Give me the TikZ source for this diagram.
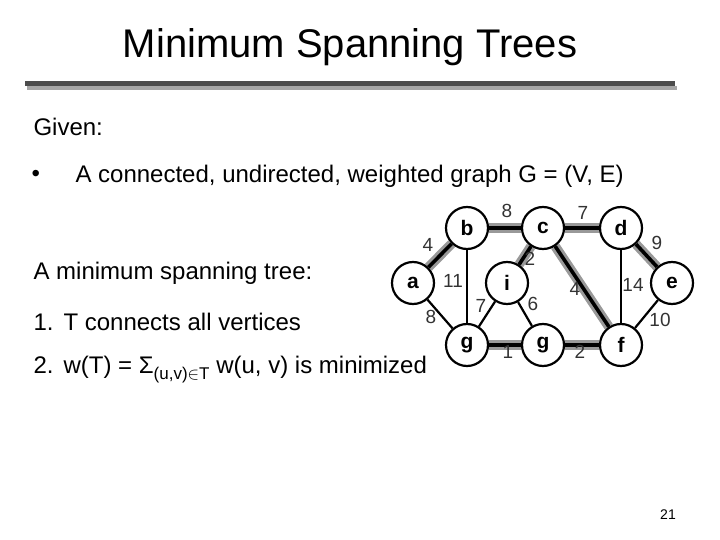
\documentclass[tikz,border=0pt]{standalone}
\usepackage{fontspec}
\setmainfont{Liberation Sans}
\usepackage{amsmath}
\usepackage{amssymb}
\usepackage{tikz}
\usetikzlibrary{backgrounds}

\begin{document}
\begin{tikzpicture}[x=1pt,y=-1pt,
	vtx/.style={circle, draw, line width=2.2pt, fill=white, minimum size=42pt, inner sep=0pt, font=\fontsize{21}{21}\selectfont\bfseries},
	edge/.style={line width=2.2pt},
	tree/.style={line width=3pt, double=black, double distance=3.6pt, draw=black!40},
	wt/.style={font=\fontsize{19}{19}\selectfont, text=black!80},
	txt/.style={anchor=west, font=\fontsize{24}{24}\selectfont}]
	\useasboundingbox (0,0) rectangle (720,540);
	\node at (350,47) {\fontsize{40}{40}\selectfont Minimum Spanning Trees};
	\fill[black!35] (27,86) rectangle (677,90);
	\fill[black!70] (25,81) rectangle (675,86);
	\node[txt] at (30,127) {Given:};
	\node[txt] at (28,176) {\textbullet};
	\node[txt] at (72,176) {A connected, undirected, weighted graph G = (V, E)};
	\node[txt] at (30,273) {A minimum spanning tree:};
	\node[txt] at (30,322) {1.\hspace{10pt}T connects all vertices};
	\node[txt] at (30,370) {2.\hspace{10pt}w(T) = Σ\raisebox{-6pt}{\fontsize{17}{17}\selectfont(u,v)$\in$T} w(u, v) is minimized};
	\node at (668,515) {\fontsize{14}{14}\selectfont 21};
	% graph
	\node (b) at (467,228) [vtx] {b};
	\node (c) at (543,228) [vtx] {c};
	\node (d) at (621,228) [vtx] {d};
		\node (a) at (413,283) [vtx] {a};
		\node (i) at (507,283) [vtx] {i};
		\node (e) at (672,283) [vtx] {e};
			\node (g1) at (467,345) [vtx] {g};
			\node (g2) at (543,345) [vtx] {g};
			\node (f) at (621,345) [vtx] {f};
	\begin{scope}[on background layer]
	\draw[tree] (a) -- (b);
	\draw[tree] (b) -- (c);
	\draw[tree] (c) -- (d);
	\draw[tree] (c) -- (i);
	\draw[tree] (c) -- (f);
	\draw[tree] (d) -- (e);
	\draw[tree] (g1) -- (g2);
	\draw[tree] (g2) -- (f);
	\draw[edge] (b) -- (g1);
	\draw[edge] (a) -- (g1);
	\draw[edge] (i) -- (g1);
	\draw[edge] (i) -- (g2);
	\draw[edge] (d) -- (f);
	\draw[edge] (e) -- (f);
	\end{scope}
	\node[wt] (w1) at (507,211) {8};
	\node[wt] (w2) at (583,213) {7};
	\node[wt] (w3) at (428,245) {4};
	\node[wt] (w4) at (657,243) {9};
	\node[wt] (w5) at (530,259) {2};
	\node[wt] (w6) at (453,281) {11};
	\node[wt] (w7) at (575,289) {4};
	\node[wt] (w8) at (633,285) {14};
	\node[wt] (w9) at (481,306) {7};
	\node[wt] (w10) at (533,304) {6};
	\node[wt] (w11) at (431,317) {8};
	\node[wt] (w12) at (660,320) {10};
	\node[wt] (w13) at (508,352) {1};
	\node[wt] (w14) at (580,352) {2};
\end{tikzpicture}
\end{document}
